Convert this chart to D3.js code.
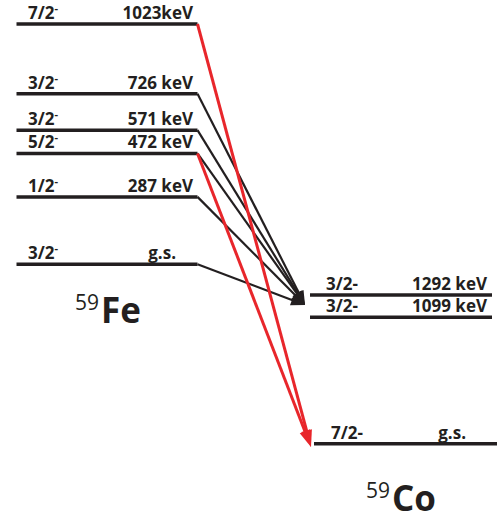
<!DOCTYPE html>
<html>
<head>
<meta charset="utf-8">
<script src="https://cdn.jsdelivr.net/npm/d3@7/dist/d3.min.js"></script>
<style>
  html, body { margin: 0; padding: 0; background: #fff; }
  svg { display: block; }
  text { font-family: "Open Sans", "Noto Sans", sans-serif; font-weight: 700; fill: #231f20; }
</style>
</head>
<body>
<script>
// Parent nucleus 59Fe: level energies (keV), spins and energy labels
const feEnergies = [1023, 726, 571, 472, 287, 0];
const feSpins    = ["7/2", "3/2", "3/2", "5/2", "1/2", "3/2"];
const feLabels   = ["1023keV", "726 keV", "571 keV", "472 keV", "287 keV", "g.s."];

// Daughter nucleus 59Co
const coEnergies = [1292, 1099, 0];
const coSpins    = ["3/2-", "3/2-", "7/2-"];
const coLabels   = ["1292 keV", "1099 keV", "g.s."];

// Transitions: source level energy in 59Fe -> which group they feed
const blackFrom = [726, 571, 472, 287, 0];   // feed the 1099/1292 keV pair
const redFrom   = [1023, 472];               // feed the 59Co ground state

const W = 499, H = 520;
const BLACK = "#231f20", RED = "#e8262b";

const svg = d3.select("body").append("svg").attr("width", W).attr("height", H);

const yFe = d3.scaleLinear().domain([0, 1023]).range([264.3, 24]);
const yCo = d3.scaleLinear().domain([0, 1292]).range([443.7, 295]);

const feX0 = 16.5, feX1 = 197.5;
const coX0 = 310, coX1 = 492;
const coGsX0 = 314, coGsX1 = 497;

// Arrow tips
const blackTip = { x: 305, y: 305 };
const redTip = { x: 311, y: 447 };

function arrowHead(g, x1, y1, tip, len, wid, color) {
  const dx = tip.x - x1, dy = tip.y - y1;
  const L = Math.hypot(dx, dy), ux = dx / L, uy = dy / L;
  const bx = tip.x - ux * len, by = tip.y - uy * len;
  const px = -uy * wid / 2, py = ux * wid / 2;
  g.append("path")
    .attr("d", `M${tip.x},${tip.y}L${bx + px},${by + py}L${bx - px},${by - py}Z`)
    .attr("fill", color);
  return { x: tip.x - ux * len * 0.6, y: tip.y - uy * len * 0.6 };
}

// Fe levels
const fe = svg.append("g");
fe.selectAll("line").data(feEnergies).join("line")
  .attr("x1", feX0).attr("x2", feX1)
  .attr("y1", d => yFe(d)).attr("y2", d => yFe(d))
  .attr("stroke", BLACK).attr("stroke-width", 3.5);

feEnergies.forEach((e, i) => {
  const y = yFe(e) - 5;
  const t = fe.append("text").attr("x", 28).attr("y", y).attr("font-size", 17);
  t.append("tspan").text(feSpins[i]);
  t.append("tspan").attr("dy", -7).attr("font-size", 11).text("-");
  fe.append("text")
    .attr("x", e === 0 ? 176 : 193).attr("y", y)
    .attr("text-anchor", "end").attr("font-size", 17)
    .text(feLabels[i]);
});

// Co levels
const co = svg.append("g");
coEnergies.forEach((e, i) => {
  const y = yCo(e);
  const gs = e === 0;
  co.append("line")
    .attr("x1", gs ? coGsX0 : coX0).attr("x2", gs ? coGsX1 : coX1)
    .attr("y1", y).attr("y2", y)
    .attr("stroke", BLACK).attr("stroke-width", 3.5);
  co.append("text").attr("x", gs ? 331 : 326).attr("y", y - 5)
    .attr("font-size", 17).text(coSpins[i]);
  co.append("text").attr("x", gs ? 466 : 487).attr("y", y - 5)
    .attr("text-anchor", "end").attr("font-size", 17).text(coLabels[i]);
});

// Transitions
const tr = svg.append("g");
blackFrom.forEach(e => {
  const x1 = feX1, y1 = yFe(e);
  const end = arrowHead(tr, x1, y1, blackTip, 14, 11, BLACK);
  tr.append("line").attr("x1", x1).attr("y1", y1).attr("x2", end.x).attr("y2", end.y)
    .attr("stroke", BLACK).attr("stroke-width", 2.2);
});
redFrom.forEach(e => {
  const x1 = feX1, y1 = yFe(e);
  const end = arrowHead(tr, x1, y1, redTip, 17, 11, RED);
  tr.append("line").attr("x1", x1).attr("y1", y1).attr("x2", end.x).attr("y2", end.y)
    .attr("stroke", RED).attr("stroke-width", 3);
});

// Nuclide names
function nuclide(x, y, mass, sym) {
  const t = svg.append("text").attr("x", x).attr("y", y).attr("font-size", 35);
  t.append("tspan").attr("font-size", 21).attr("dy", -13).attr("font-weight", 500).text(mass);
  t.append("tspan").attr("dy", 13).attr("dx", 2).text(sym);
}
nuclide(75, 323, "59", "Fe");
nuclide(366, 511, "59", "Co");
</script>
</body>
</html>
